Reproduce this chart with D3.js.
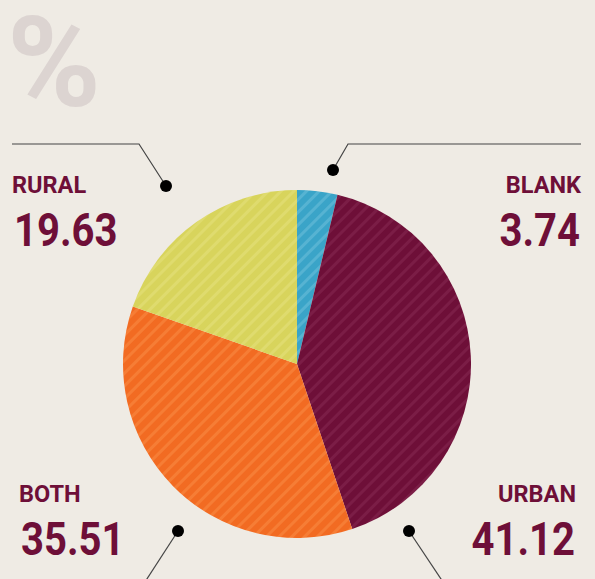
<!DOCTYPE html>
<html>
<head>
<meta charset="utf-8">
<script src="https://cdnjs.cloudflare.com/ajax/libs/d3/7.8.5/d3.min.js"></script>
<style>
  body { margin: 0; background: #efebe4; }
  svg { display: block; }
  .lbl { font-family: Roboto, sans-serif; font-weight: 700; fill: #6e0f38; }
</style>
</head>
<body>
<div id="chart"></div>
<script>
const width = 595;
const height = 579;

// data
const categories = ["BLANK", "URBAN", "BOTH", "RURAL"];
const values = [3.74, 41.12, 35.51, 19.63];
const colors = ["#3aa4c8", "#6e0f38", "#f26b22", "#d8d45c"];
const stripeColors = ["#56b3d2", "#7b1d46", "#f67d35", "#dfdb6e"];

const svg = d3.select("#chart")
  .append("svg")
  .attr("width", width)
  .attr("height", height);

svg.append("rect")
  .attr("width", width)
  .attr("height", height)
  .attr("fill", "#efebe4");

// big percent sign
svg.append("text")
  .attr("x", 7)
  .attr("y", 106)
  .style("font-family", "Roboto, sans-serif")
  .style("font-weight", 700)
  .style("font-size", "127px")
  .attr("fill", "#dcd4d1")
  .text("%");

// striped patterns
const defs = svg.append("defs");
categories.forEach((c, i) => {
  const p = defs.append("pattern")
    .attr("id", "stripe" + i)
    .attr("patternUnits", "userSpaceOnUse")
    .attr("width", 9)
    .attr("height", 9)
    .attr("patternTransform", "rotate(45)");
  p.append("rect").attr("width", 9).attr("height", 9).attr("fill", colors[i]);
  p.append("rect").attr("width", 3).attr("height", 9).attr("fill", stripeColors[i]);
});

const cx = 297, cy = 364, r = 174;

const pie = d3.pie().sort(null).value(d => d);
const arc = d3.arc().innerRadius(0).outerRadius(r);

svg.append("g")
  .attr("transform", `translate(${cx},${cy})`)
  .selectAll("path")
  .data(pie(values))
  .enter().append("path")
  .attr("d", arc)
  .attr("fill", (d, i) => `url(#stripe${i})`);

// leader lines
const leaders = [
  { pts: [[333, 170], [348, 144], [581, 144]] },
  { pts: [[409, 531], [445, 585]] },
  { pts: [[178, 531], [143, 585]] },
  { pts: [[166, 186], [139, 144], [12, 144]] }
];
const line = d3.line();
leaders.forEach(l => {
  svg.append("path")
    .attr("d", line(l.pts))
    .attr("fill", "none")
    .attr("stroke", "#444")
    .attr("stroke-width", 1.2);
  svg.append("circle")
    .attr("cx", l.pts[0][0])
    .attr("cy", l.pts[0][1])
    .attr("r", 6)
    .attr("fill", "#000");
});

// labels, numbers squeezed a bit to look condensed
const sx = 0.87;
const labelPos = [
  { x: 581, y: 193, anchor: "end" },
  { x: 576, y: 502, anchor: "end" },
  { x: 19, y: 502, anchor: "start" },
  { x: 12, y: 193, anchor: "start" }
];
categories.forEach((c, i) => {
  const lp = labelPos[i];
  svg.append("text")
    .attr("class", "lbl")
    .attr("transform", `translate(${lp.x},${lp.y}) scale(0.98,1)`)
    .attr("text-anchor", lp.anchor)
    .style("font-size", "24px")
    .text(c);
  svg.append("text")
    .attr("class", "lbl")
    .attr("transform", `translate(${lp.anchor === "end" ? lp.x - 1 : lp.x + 2},${lp.y + 53}) scale(${sx},1)`)
    .attr("text-anchor", lp.anchor)
    .style("font-size", "46px")
    .text(values[i].toFixed(2));
});
</script>
</body>
</html>
